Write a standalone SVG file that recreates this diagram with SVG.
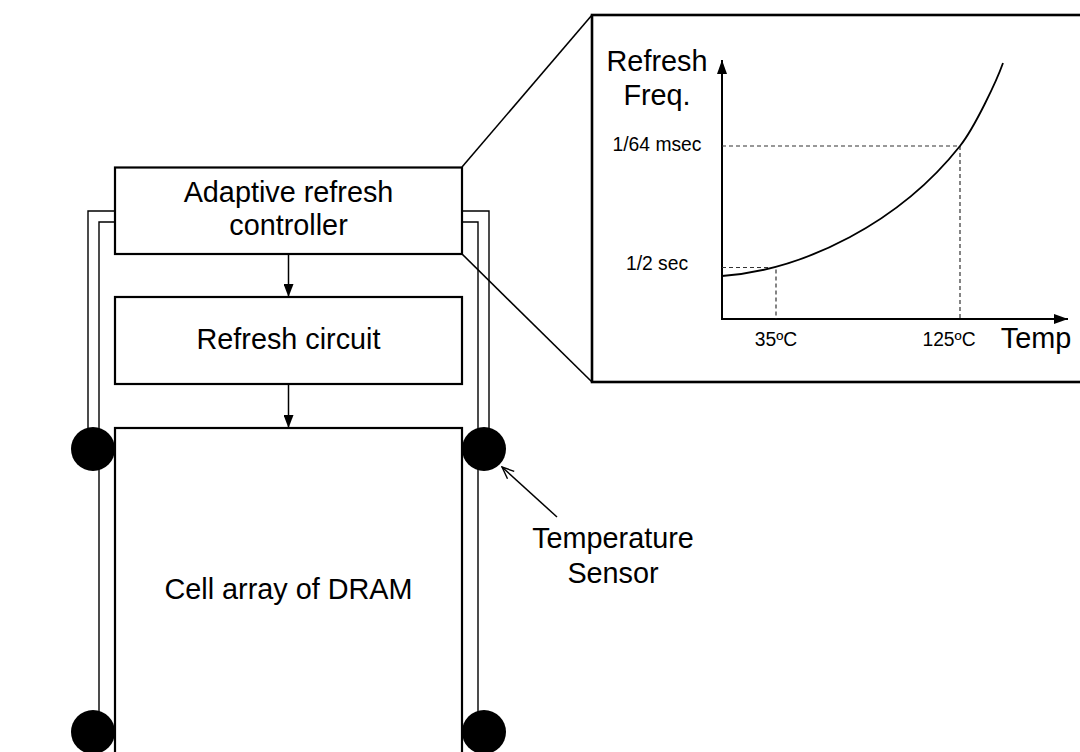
<svg xmlns="http://www.w3.org/2000/svg" width="1080" height="752" viewBox="0 0 1080 752">
<style>
.box{fill:#fff;stroke:#000;stroke-width:2.2}
.wire{fill:none;stroke:#000;stroke-width:1.4}
.lbl{font-family:"Liberation Sans",Arial,sans-serif;font-size:28.8px;fill:#000;text-anchor:middle}
.sm{font-family:"Liberation Sans",Arial,sans-serif;font-size:19.3px;fill:#000;text-anchor:middle}
.dash{fill:none;stroke:#333;stroke-width:1.2;stroke-dasharray:4 3}
.axis{fill:none;stroke:#000;stroke-width:2}
.sensor{fill:#000}
</style>
<defs>
<marker id="ah" viewBox="0 0 13 10" refX="13" refY="5" markerWidth="13" markerHeight="10" markerUnits="userSpaceOnUse" orient="auto">
<path d="M0,0 L13,5 L0,10 Z" fill="#000"/>
</marker>
<marker id="axh" viewBox="0 0 14 10" refX="14" refY="5" markerWidth="14" markerHeight="10" markerUnits="userSpaceOnUse" orient="auto">
<path d="M0,0 L14,5 L0,10 Z" fill="#000"/>
</marker>
<marker id="open" viewBox="0 0 14 12" refX="13" refY="6" markerWidth="14" markerHeight="12" markerUnits="userSpaceOnUse" orient="auto">
<path d="M1,1 L13,6 L1,11" fill="none" stroke="#000" stroke-width="1.4"/>
</marker>
</defs>
<rect width="1080" height="752" fill="#fff"/>

<g id="connectors">
<path class="wire" d="M115,211 H88 V449"/>
<path class="wire" d="M115,222 H99 V732"/>
<path class="wire" d="M462,211 H489 V449"/>
<path class="wire" d="M462,222 H478 V732"/>
<line x1="288.5" y1="254" x2="288.5" y2="297" stroke="#000" stroke-width="1.5" marker-end="url(#ah)"/>
<line x1="288.5" y1="384" x2="288.5" y2="428" stroke="#000" stroke-width="1.5" marker-end="url(#ah)"/>
<line x1="462" y1="167" x2="592" y2="15" stroke="#000" stroke-width="1.6"/>
<line x1="462" y1="254" x2="592" y2="382" stroke="#000" stroke-width="1.6"/>
<line x1="557" y1="517" x2="502" y2="467" stroke="#000" stroke-width="1.5" marker-end="url(#open)"/>
</g>

<g id="sensor-top-left"><circle class="sensor" cx="93" cy="449" r="22"/></g>
<g id="sensor-top-right"><circle class="sensor" cx="484" cy="449" r="22"/></g>
<g id="sensor-bottom-left"><circle class="sensor" cx="93" cy="732" r="22"/></g>
<g id="sensor-bottom-right"><circle class="sensor" cx="484" cy="732" r="22"/></g>

<g id="controller">
<rect class="box" x="115" y="167.5" width="347" height="86.5"/>
<text class="lbl" x="288.5" y="202">Adaptive refresh</text>
<text class="lbl" x="288.5" y="235">controller</text>
</g>

<g id="refresh-circuit">
<rect class="box" x="115" y="297" width="347" height="87"/>
<text class="lbl" x="288.5" y="349">Refresh circuit</text>
</g>

<g id="cell-array">
<rect class="box" x="115" y="428" width="347" height="340"/>
<text class="lbl" x="288.5" y="599">Cell array of DRAM</text>
</g>

<g id="temperature-sensor-label">
<text class="lbl" x="613" y="548">Temperature</text>
<text class="lbl" x="613" y="583">Sensor</text>
</g>

<g id="chart">
<rect x="592" y="15" width="500" height="367" fill="#fff" stroke="#000" stroke-width="2.6"/>
<line class="axis" x1="722" y1="320" x2="722" y2="60" marker-end="url(#axh)"/>
<line class="axis" x1="721" y1="319" x2="1068" y2="319" marker-end="url(#axh)"/>
<path class="dash" d="M722,146 H960 V319"/>
<path class="dash" d="M722,267.5 H776 V319"/>
<path d="M722,276 C805,270 900,222 960,146 C975,127 997,80 1003,63" fill="none" stroke="#000" stroke-width="1.8"/>
<text class="lbl" x="657" y="71">Refresh</text>
<text class="lbl" x="657" y="105">Freq.</text>
<text class="sm" x="657" y="151">1/64 msec</text>
<text class="sm" x="657" y="270">1/2 sec</text>
<text class="sm" x="776" y="346">35ºC</text>
<text class="sm" x="949" y="346">125ºC</text>
<text class="lbl" x="1036" y="348">Temp</text>
</g>
</svg>
